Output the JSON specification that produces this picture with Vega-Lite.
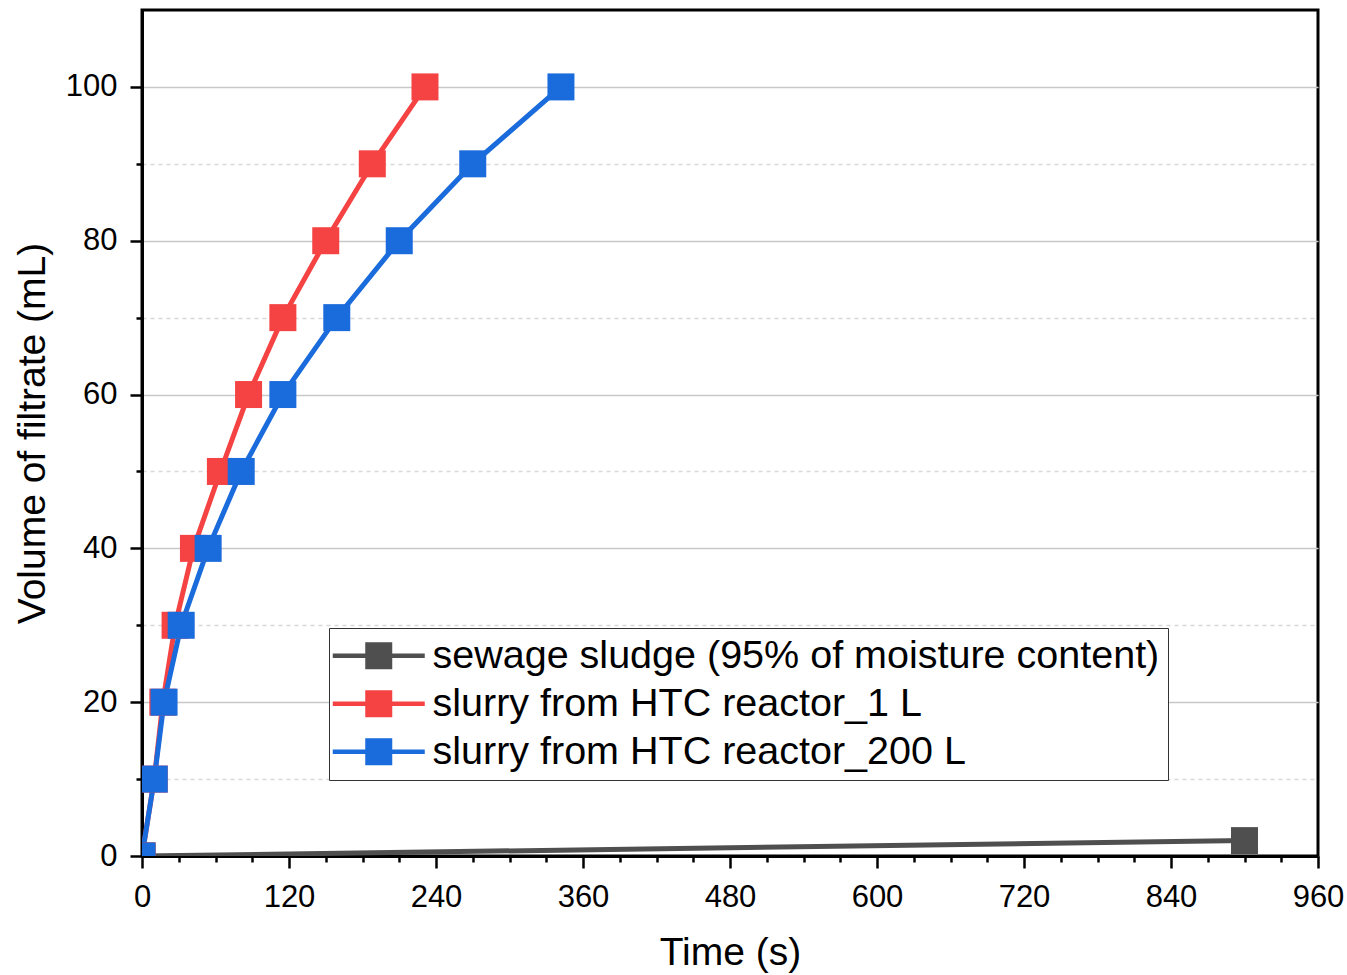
{
  "$schema": "https://vega.github.io/schema/vega-lite/v6.json",
  "width": 1176,
  "height": 846,
  "autosize": {"type": "none"},
  "padding": {"left": 142, "top": 10, "right": 29, "bottom": 119},
  "background": "white",
  "config": {
    "view": {"stroke": "black", "strokeWidth": 3},
    "font": "Liberation Sans"
  },
  "data": {
    "values": [
      {"series": "sewage sludge (95% of moisture content)", "t": 0, "v": 0},
      {"series": "sewage sludge (95% of moisture content)", "t": 900, "v": 2},
      {"series": "slurry from HTC reactor_1 L", "t": 0, "v": 0},
      {"series": "slurry from HTC reactor_1 L", "t": 10, "v": 10},
      {"series": "slurry from HTC reactor_1 L", "t": 17, "v": 20},
      {"series": "slurry from HTC reactor_1 L", "t": 27, "v": 30},
      {"series": "slurry from HTC reactor_1 L", "t": 42, "v": 40},
      {"series": "slurry from HTC reactor_1 L", "t": 64, "v": 50},
      {"series": "slurry from HTC reactor_1 L", "t": 87, "v": 60},
      {"series": "slurry from HTC reactor_1 L", "t": 115, "v": 70},
      {"series": "slurry from HTC reactor_1 L", "t": 150, "v": 80},
      {"series": "slurry from HTC reactor_1 L", "t": 188, "v": 90},
      {"series": "slurry from HTC reactor_1 L", "t": 231, "v": 100},
      {"series": "slurry from HTC reactor_200 L", "t": 0, "v": 0},
      {"series": "slurry from HTC reactor_200 L", "t": 10, "v": 10},
      {"series": "slurry from HTC reactor_200 L", "t": 18, "v": 20},
      {"series": "slurry from HTC reactor_200 L", "t": 32, "v": 30},
      {"series": "slurry from HTC reactor_200 L", "t": 54, "v": 40},
      {"series": "slurry from HTC reactor_200 L", "t": 81, "v": 50},
      {"series": "slurry from HTC reactor_200 L", "t": 115, "v": 60},
      {"series": "slurry from HTC reactor_200 L", "t": 159, "v": 70},
      {"series": "slurry from HTC reactor_200 L", "t": 210, "v": 80},
      {"series": "slurry from HTC reactor_200 L", "t": 270, "v": 90},
      {"series": "slurry from HTC reactor_200 L", "t": 342, "v": 100}
    ]
  },
  "encoding": {
    "x": {
      "field": "t", "type": "quantitative",
      "scale": {"domain": [0, 960], "nice": false, "zero": false},
      "axis": {
        "title": "Time (s)",
        "values": [0,30,60,90,120,150,180,210,240,270,300,330,360,390,420,450,480,510,540,570,600,630,660,690,720,750,780,810,840,870,900,930,960],
        "labelExpr": "datum.value % 120 === 0 ? datum.label : ''",
        "grid": false,
        "domainColor": "black", "domainWidth": 3,
        "tickColor": "black", "tickWidth": 2.5,
        "tickSize": {"condition": {"test": "datum.value % 120 === 0", "value": 12}, "value": 6},
        "labelFontSize": 31, "labelColor": "black", "labelPadding": 14,
        "labelFlush": false, "labelOverlap": false,
        "titleFontSize": 39, "titleFontWeight": "normal", "titleColor": "black", "titlePadding": 21
      }
    },
    "y": {
      "field": "v", "type": "quantitative",
      "scale": {"domain": [0, 110], "nice": false},
      "axis": {
        "title": "Volume of filtrate (mL)",
        "values": [0,10,20,30,40,50,60,70,80,90,100],
        "labelExpr": "datum.value % 20 === 0 ? datum.label : ''",
        "grid": true,
        "gridColor": {"condition": {"test": "datum.value % 20 === 0", "value": "#c8c8c8"}, "value": "#d8d8d8"},
        "gridDash": {"condition": {"test": "datum.value % 20 === 0", "value": []}, "value": [4, 4]},
        "gridWidth": 1.5,
        "domainColor": "black", "domainWidth": 3,
        "tickColor": "black", "tickWidth": 2.5,
        "tickSize": {"condition": {"test": "datum.value % 20 === 0", "value": 12}, "value": 6},
        "labelFontSize": 31, "labelColor": "black", "labelPadding": 13,
        "labelFlush": false, "labelOverlap": false,
        "titleFontSize": 39, "titleFontWeight": "normal", "titleColor": "black", "titlePadding": 13
      }
    },
    "color": {
      "field": "series", "type": "nominal",
      "scale": {
        "domain": ["sewage sludge (95% of moisture content)", "slurry from HTC reactor_1 L", "slurry from HTC reactor_200 L"],
        "range": ["#4f4f4f", "#f54242", "#1a6bdc"]
      },
      "legend": {
        "title": null,
        "orient": "none",
        "legendX": 187,
        "legendY": 618,
        "padding": 8,
        "fillColor": "white",
        "strokeColor": "#333333",
        "symbolType": "M-2.706,-0.132H2.706V0.132H-2.706Z M-0.794,-0.794H0.794V0.794H-0.794Z",
        "symbolSize": 1156,
        "symbolStrokeWidth": 0,
        "symbolOpacity": 1,
        "symbolOffset": 22,
        "labelOffset": 34,
        "labelFontSize": 39.5,
        "labelColor": "black",
        "labelLimit": 1000,
        "rowPadding": 7
      }
    }
  },
  "layer": [
    {
      "mark": {"type": "line", "strokeWidth": 5, "clip": true}
    },
    {
      "mark": {"type": "point", "shape": "square", "filled": true, "opacity": 1, "size": 729, "clip": true}
    }
  ]
}
